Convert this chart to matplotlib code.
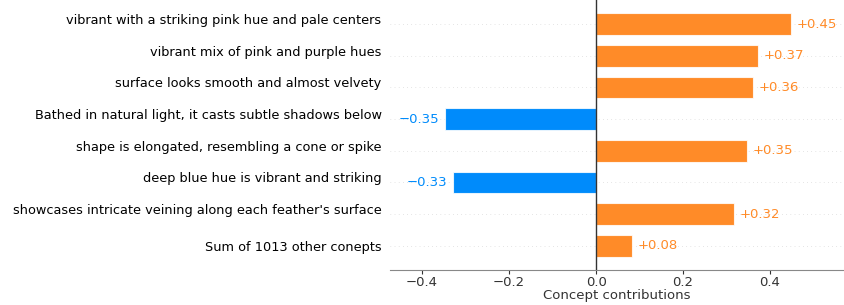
import matplotlib.pyplot as plt
import matplotlib.transforms as mtransforms

concepts = [
    "vibrant with a striking pink hue and pale centers",
    "vibrant mix of pink and purple hues",
    "surface looks smooth and almost velvety",
    "Bathed in natural light, it casts subtle shadows below",
    "shape is elongated, resembling a cone or spike",
    "deep blue hue is vibrant and striking",
    "showcases intricate veining along each feather's surface",
    "Sum of 1013 other conepts",
]
contributions = [0.448, 0.372, 0.360, -0.347, 0.346, -0.330, 0.318, 0.0835]

pos_color = "#ff8b28"
neg_color = "#008bfb"

fig = plt.figure(figsize=(8.44, 3.05), dpi=100)
ax = fig.add_axes([0.462, 0.115, 0.538, 0.885])

y_pos = list(range(len(concepts)))
colors = [pos_color if v > 0 else neg_color for v in contributions]
ax.barh(y_pos, contributions, height=0.68, color=colors,
        edgecolor=(1, 1, 1, 0.8), linewidth=0.8, zorder=2)

for y in y_pos:
    ax.axhline(y, color="#cccccc", lw=0.5, dashes=(1, 5), zorder=-1)

ax.axvline(0, color="#333333", lw=1, zorder=3)

ax.set_xlim(-0.474, 0.570)
ax.set_ylim(len(concepts) - 1 + 0.76, -0.76)

for y, v in zip(y_pos, contributions):
    txt = f"{v:+.2f}".replace("-", "\u2212")
    if v > 0:
        ax.annotate(txt, (v, y), xytext=(4, 0), textcoords="offset points",
                    ha="left", va="center", color=pos_color, fontsize=9.5)
    else:
        ax.annotate(txt, (v, y), xytext=(-4, 0), textcoords="offset points",
                    ha="right", va="center", color=neg_color, fontsize=9.5)

ax.set_yticks(y_pos)
ax.set_yticklabels(concepts, fontsize=9.3)
ax.tick_params(axis="y", length=0, pad=6)
# all labels except the last sit slightly above their bar
shift = mtransforms.ScaledTranslation(0, 5 / 100, fig.dpi_scale_trans)
for lab in ax.get_yticklabels()[:-1]:
    lab.set_transform(lab.get_transform() + shift)

ax.set_xticks([-0.4, -0.2, 0.0, 0.2, 0.4])
ax.tick_params(axis="x", labelsize=9.5, colors="#333333", length=3, pad=1.5)
ax.set_xlabel("Concept contributions", fontsize=9.5, color="#333333", labelpad=0)

for s in ["left", "right", "top"]:
    ax.spines[s].set_visible(False)
ax.spines["bottom"].set_color("#888888")

fig.savefig("out.png", dpi=100)
